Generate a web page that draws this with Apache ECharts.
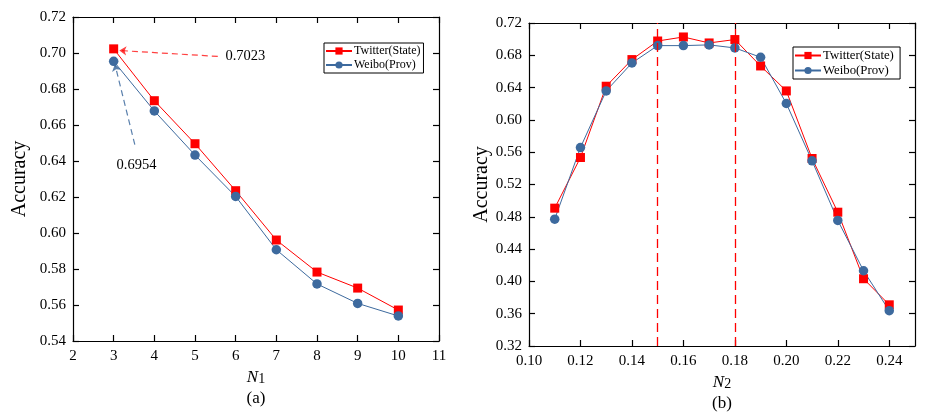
<!DOCTYPE html>
<html><head><meta charset="utf-8">
<script src="https://cdn.jsdelivr.net/npm/echarts@6/dist/echarts.min.js"></script>
<style>html,body{margin:0;padding:0;background:#fff}#c{width:934px;height:418px}</style>
</head><body><div id="c"></div>
<script>
const n1 = [3, 4, 5, 6, 7, 8, 9, 10];
const twitterA = [0.7023, 0.6735, 0.6496, 0.6235, 0.5961, 0.5783, 0.5694, 0.5572];
const weiboA = [0.6954, 0.6678, 0.6433, 0.6203, 0.5907, 0.5717, 0.5609, 0.5539];
const n2 = [0.11, 0.12, 0.13, 0.14, 0.15, 0.16, 0.17, 0.18, 0.19, 0.20, 0.21, 0.22, 0.23, 0.24];
const twitterB = [0.4907, 0.5534, 0.6417, 0.6747, 0.6977, 0.7027, 0.6953, 0.6995, 0.6668, 0.6359, 0.5522, 0.4857, 0.4033, 0.3710];
const weiboB = [0.4771, 0.5658, 0.6359, 0.6705, 0.6920, 0.6920, 0.6929, 0.6891, 0.6776, 0.6203, 0.5493, 0.4755, 0.4132, 0.3637];
const markedN2 = [0.15, 0.18];
const seriesNames = ['Twitter(State)', 'Weibo(Prov)'];

const FONT = "'Liberation Serif','Times New Roman',serif";
const RED = '#ff0000', BLUE = '#3d6a9e';
const axisLine = {show: true, onZero: false, lineStyle: {color: '#000', width: 1.2}};
const tickIn = {show: true, inside: true, length: 6, lineStyle: {color: '#000', width: 1.2}};
const lbl = (fmt, extra) => Object.assign({color: '#000', fontFamily: FONT, fontSize: 15, formatter: fmt}, extra || {});
const pair = (xs, ys) => xs.map((x, i) => [x, ys[i]]);

function mirrorX(grid, min, max, interval) {
  return {gridIndex: grid, type: 'value', position: 'top', min, max, interval,
    axisLine, axisTick: tickIn, axisLabel: {show: false}, splitLine: {show: false}};
}
function mirrorY(grid, min, max, interval) {
  return {gridIndex: grid, type: 'value', position: 'right', min, max, interval,
    axisLine, axisTick: tickIn, axisLabel: {show: false}, splitLine: {show: false}};
}
const nameRich = {
  i: {fontFamily: FONT, fontSize: 17, fontStyle: 'italic', color: '#000'},
  s: {fontFamily: FONT, fontSize: 14, color: '#000', verticalAlign: 'bottom', padding: [4, 0, 0, 0]},
  n: {fontFamily: FONT, fontSize: 17, color: '#000', lineHeight: 24}
};
const legendCommon = {
  orient: 'vertical', borderColor: '#000', borderWidth: 1, padding: [2, 3, 2, 1],
  itemGap: 2, itemWidth: 26, itemHeight: 9, backgroundColor: '#fff'
};
const lineSeries = (name, color, symbol, xi, yi, data) => ({
  name, type: 'line', xAxisIndex: xi, yAxisIndex: yi, data,
  symbol, symbolSize: symbol === 'rect' ? 9 : 9.5,
  lineStyle: {color, width: 1}, itemStyle: {color}, z: 3
});

const option = {
  animation: false,
  backgroundColor: '#fff',
  grid: [
    {left: 73, right: 495, top: 17, bottom: 77},
    {left: 529, right: 19, top: 23, bottom: 72}
  ],
  legend: [
    Object.assign({}, legendCommon, {left: 324, top: 43,
      textStyle: {fontFamily: FONT, fontSize: 12, color: '#000', padding: [0, 0, 0, -3]},
      data: [{name: seriesNames[0]}, {name: seriesNames[1]}]}),
    Object.assign({}, legendCommon, {left: 793, top: 47,
      textStyle: {fontFamily: FONT, fontSize: 12.8, color: '#000', padding: [0, 0, 0, -3]},
      data: [{name: seriesNames[0] + ' '}, {name: seriesNames[1] + ' '}]})
  ],
  xAxis: [
    {gridIndex: 0, type: 'value', min: 2, max: 11, interval: 1, axisLine, axisTick: tickIn,
     axisLabel: lbl(v => String(v), {margin: 8}), splitLine: {show: false},
     name: '{i|N}{s|1}\n{n|(a)}', nameLocation: 'middle', nameGap: 19,
     nameTextStyle: {rich: nameRich}},
    mirrorX(0, 2, 11, 1),
    {gridIndex: 1, type: 'value', min: 0.10, max: 0.25, interval: 0.02, axisLine, axisTick: tickIn,
     axisLabel: lbl(v => v.toFixed(2), {margin: 8, showMaxLabel: false}), splitLine: {show: false},
     name: '{i|N}{s|2}\n{n|(b)}', nameLocation: 'middle', nameGap: 19,
     nameTextStyle: {rich: nameRich}},
    mirrorX(1, 0.10, 0.25, 0.02)
  ],
  yAxis: [
    {gridIndex: 0, type: 'value', min: 0.54, max: 0.72, interval: 0.02, axisLine, axisTick: tickIn,
     axisLabel: lbl(v => v.toFixed(2), {margin: 7}), splitLine: {show: false},
     name: 'Accuracy', nameLocation: 'middle', nameGap: 43,
     nameTextStyle: {fontFamily: FONT, fontSize: 20, color: '#000'}},
    mirrorY(0, 0.54, 0.72, 0.02),
    {gridIndex: 1, type: 'value', min: 0.32, max: 0.72, interval: 0.04, axisLine, axisTick: tickIn,
     axisLabel: lbl(v => v.toFixed(2), {margin: 7}), splitLine: {show: false},
     name: 'Accuracy', nameLocation: 'middle', nameGap: 36,
     nameTextStyle: {fontFamily: FONT, fontSize: 20, color: '#000'}},
    mirrorY(1, 0.32, 0.72, 0.04)
  ],
  series: [
    Object.assign(lineSeries(seriesNames[0], RED, 'rect', 0, 0, pair(n1, twitterA)), {
      markLine: {
        silent: true, animation: false, symbolSize: [0, 8],
        label: {show: false},
        data: [
          [{coord: [5.56, 0.6981], symbol: 'none', lineStyle: {color: RED, type: [6, 4], width: 1.2, opacity: 0.75}},
           {coord: [3.14, 0.7014], symbol: 'arrow', symbolSize: 7}],
          [{coord: [3.52, 0.6491], symbol: 'none', lineStyle: {color: BLUE, type: [6, 4], width: 1.2, opacity: 0.85}},
           {coord: [3.03, 0.6938], symbol: 'arrow', symbolSize: 7}]
        ]
      },
      markPoint: {
        silent: true, animation: false, symbol: 'circle', symbolSize: 0,
        label: {show: true, position: 'inside', color: '#000', fontFamily: FONT, fontSize: 14.5},
        data: [
          {coord: [6.24, 0.6984], label: {formatter: String(twitterA[0])}},
          {coord: [3.56, 0.6374], label: {formatter: String(weiboA[0])}}
        ]
      }
    }),
    lineSeries(seriesNames[1], BLUE, 'circle', 0, 0, pair(n1, weiboA)),
    Object.assign(lineSeries(seriesNames[0] + ' ', RED, 'rect', 2, 2, pair(n2, twitterB)), {
      markLine: {
        silent: true, animation: false, symbol: 'none', label: {show: false},
        lineStyle: {color: RED, type: [9, 5], width: 1.3},
        data: markedN2.map(v => ({xAxis: v}))
      }
    }),
    lineSeries(seriesNames[1] + ' ', BLUE, 'circle', 2, 2, pair(n2, weiboB))
  ]
};
echarts.init(document.getElementById('c')).setOption(option);
</script></body></html>
